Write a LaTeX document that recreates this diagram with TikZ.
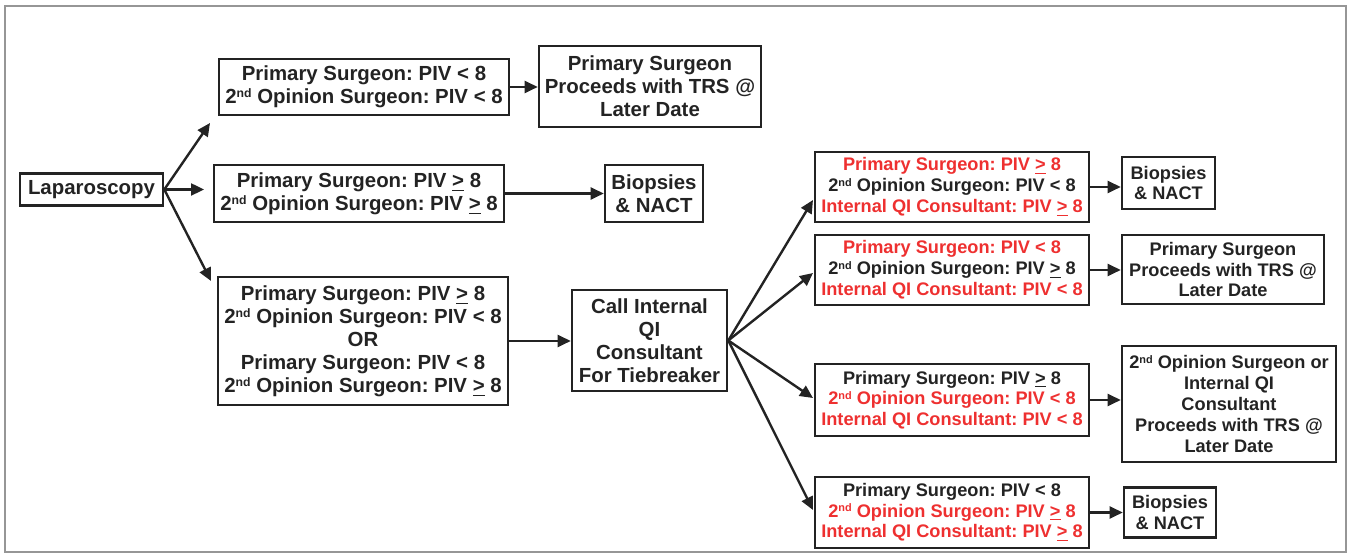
\documentclass[tikz,border=0pt]{standalone}
\usepackage{fontspec}
\setmainfont{Liberation Sans}
\usetikzlibrary{arrows.meta}
\definecolor{ink}{RGB}{35,35,35}
\definecolor{hot}{RGB}{238,48,48}
\definecolor{framec}{RGB}{150,150,150}
\newcommand\GEu{\underline{>}}
\newcommand\nd{\raisebox{0.55ex}{\scalebox{0.6}{nd}}}
\newcommand\R[1]{\textcolor{hot}{#1}}
\tikzset{
  boxbase/.style={draw=ink, line width=1.3pt, align=center, inner sep=1pt, text=ink},
  bigbox/.style={boxbase, font=\fontsize{10.2}{11.5}\selectfont\bfseries\frenchspacing},
  smallbox/.style={boxbase, font=\fontsize{9.1}{10.4}\selectfont\bfseries\frenchspacing},
  arr/.style={draw=ink, line width=1.2pt, -{Triangle[length=6.5pt,width=6pt]}}
}
\begin{document}
\begin{tikzpicture}[x=0.5pt,y=-0.5pt]
\useasboundingbox (0,0) rectangle (1351,555);
\draw[line width=1pt, framec] (5,6) rectangle (1346,552);

\node[bigbox, minimum width=71.5pt, minimum height=16pt] (lap) at (91.5,189.5) {Laparoscopy};

\node[bigbox, minimum width=145pt, minimum height=28pt] (a1) at (364,87)
  {Primary Surgeon: PIV < 8\\2\nd{} Opinion Surgeon: PIV < 8};
\node[bigbox, minimum width=111pt, minimum height=40.5pt] (a1r) at (650,86.5)
  {Primary Surgeon\\Proceeds with TRS @\\Later Date};

\node[bigbox, minimum width=145pt, minimum height=28.5pt] (a2) at (359,193.5)
  {Primary Surgeon: PIV \GEu{} 8\\2\nd{} Opinion Surgeon: PIV \GEu{} 8};
\node[bigbox, minimum width=49pt, minimum height=28.5pt] (a2r) at (654,193.5)
  {Biopsies\\\& NACT};

\node[bigbox, minimum width=145pt, minimum height=64pt] (a3) at (363,341)
  {Primary Surgeon: PIV \GEu{} 8\\2\nd{} Opinion Surgeon: PIV < 8\\OR\\Primary Surgeon: PIV < 8\\2\nd{} Opinion Surgeon: PIV \GEu{} 8};
\node[bigbox, minimum width=77.5pt, minimum height=50.5pt] (call) at (649.5,340.5)
  {Call Internal\\QI\\Consultant\\For Tiebreaker};

\node[smallbox, minimum width=137pt, minimum height=35pt] (b1) at (952,187)
  {\R{Primary Surgeon: PIV \GEu{} 8}\\2\nd{} Opinion Surgeon: PIV < 8\\\R{Internal QI Consultant: PIV \GEu{} 8}};
\node[smallbox, minimum width=46.5pt, minimum height=26pt] (b1r) at (1168.5,183)
  {Biopsies\\\& NACT};

\node[smallbox, minimum width=137pt, minimum height=35pt] (b2) at (952,270)
  {\R{Primary Surgeon: PIV < 8}\\2\nd{} Opinion Surgeon: PIV \GEu{} 8\\\R{Internal QI Consultant: PIV < 8}};
\node[smallbox, minimum width=101pt, minimum height=34.5pt] (b2r) at (1223,269.5)
  {Primary Surgeon\\Proceeds with TRS @\\Later Date};

\node[smallbox, minimum width=137pt, minimum height=36pt] (b3) at (952,400)
  {Primary Surgeon: PIV \GEu{} 8\\\R{2\nd{} Opinion Surgeon: PIV < 8}\\\R{Internal QI Consultant: PIV < 8}};
\node[smallbox, minimum width=107pt, minimum height=58pt] (b3r) at (1229,404)
  {2\nd{} Opinion Surgeon or\\Internal QI\\Consultant\\Proceeds with TRS @\\Later Date};

\node[smallbox, minimum width=137pt, minimum height=35.5pt] (b4) at (952,512.5)
  {Primary Surgeon: PIV < 8\\\R{2\nd{} Opinion Surgeon: PIV \GEu{} 8}\\\R{Internal QI Consultant: PIV \GEu{} 8}};
\node[smallbox, minimum width=46pt, minimum height=25pt] (b4r) at (1170,512.5)
  {Biopsies\\\& NACT};

\coordinate (t1) at (210,123);
\coordinate (t2) at (204,189.5);
\coordinate (t3) at (211,281);
\draw[arr] (lap.east) -- (t1);
\draw[arr] (lap.east) -- (t2);
\draw[arr] (lap.east) -- (t3);

\draw[arr] (a1.east) -- (a1.east -| a1r.west);
\draw[arr] (a2.east) -- (a2.east -| a2r.west);
\draw[arr] (a3.east) -- (a3.east -| call.west);

\coordinate (c1) at (813,200);
\coordinate (c2) at (813,273);
\coordinate (c3) at (813,398);
\coordinate (c4) at (813,510);
\draw[arr] (call.east) -- (c1);
\draw[arr] (call.east) -- (c2);
\draw[arr] (call.east) -- (c3);
\draw[arr] (call.east) -- (c4);

\draw[arr] (b1.east) -- (b1.east -| b1r.west);
\draw[arr] (b2.east) -- (b2.east -| b2r.west);
\draw[arr] (b3.east) -- (b3.east -| b3r.west);
\draw[arr] (b4.east) -- (b4.east -| b4r.west);
\end{tikzpicture}
\end{document}
